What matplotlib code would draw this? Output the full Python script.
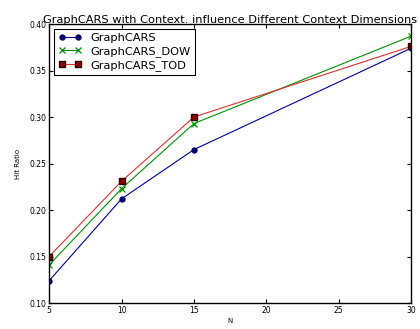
import matplotlib
matplotlib.use('Agg')
import matplotlib.pyplot as plt

# значения
N = [5, 10, 15, 30]
graphcars = [0.124, 0.212, 0.265, 0.374]
graphcars_dow = [0.141, 0.223, 0.293, 0.387]
graphcars_tod = [0.150, 0.231, 0.300, 0.376]
yticks = [0.10, 0.15, 0.20, 0.25, 0.30, 0.35, 0.40]
xticks = [5, 10, 15, 20, 25, 30]

fig = plt.figure(figsize=(4.2, 3.29), dpi=100)
ax = fig.add_axes([0.117, 0.079, 0.862, 0.848])

ax.plot(N, graphcars, 'o-', color='#0000a0', mfc='#000080', mec='#000060', ms=3.5, lw=0.8, label='GraphCARS')
ax.plot(N, graphcars_dow, 'x-', color='#009000', ms=4, mew=0.9, lw=0.8, label='GraphCARS_DOW')
ax.plot(N, graphcars_tod, 's-', color='#e03030', mfc='#900000', mec='#200000', ms=4.5, lw=0.8, label='GraphCARS_TOD')

ax.set_xlim(5, 30)
ax.set_ylim(0.10, 0.40)
ax.set_xticks(xticks)
ax.set_yticks(yticks)
ax.set_yticklabels(['%.2f' % v for v in yticks])
ax.tick_params(direction='in', top=True, right=True, labelsize=5.5, length=3, pad=2)
for s in ax.spines.values():
    s.set_linewidth(1.0)

ax.set_xlabel('N', fontsize=5, labelpad=2)
ax.set_ylabel('Hit Ratio', fontsize=5, labelpad=6)
ax.set_title('GraphCARS with Context. influence Different Context Dimensions', fontsize=8.2, pad=1)

leg = ax.legend(loc='upper left', numpoints=2, fontsize=8.2, fancybox=False, framealpha=1,
                edgecolor='black', handlelength=2.0, borderaxespad=0.4, labelspacing=0.25)
leg.get_frame().set_linewidth(0.8)

fig.savefig('out.png', dpi=100, facecolor='white')
